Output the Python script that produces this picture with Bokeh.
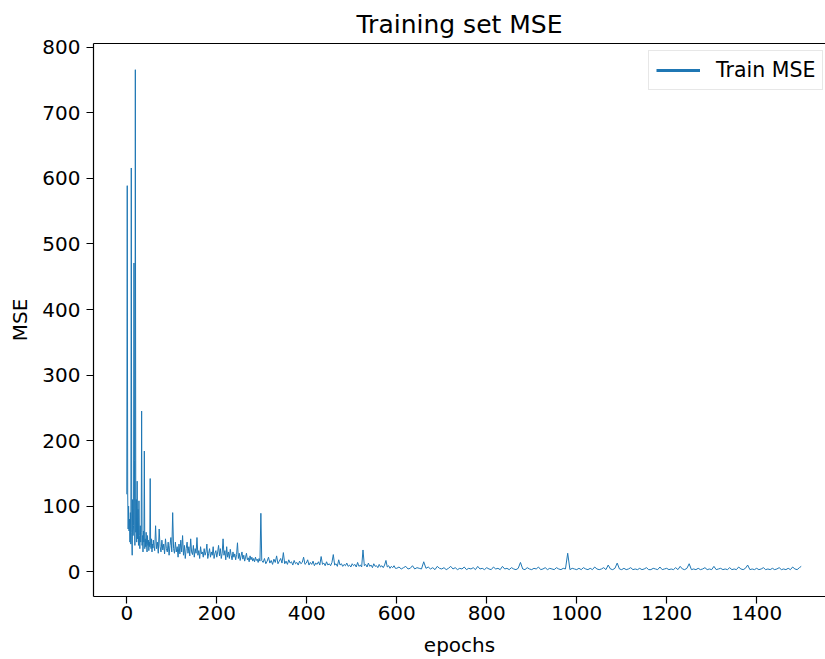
from bokeh.plotting import figure
from bokeh.models import Range1d, FixedTicker, LinearAxis, Legend, LegendItem, ColumnDataSource
from bokeh.embed import file_html
from bokeh.resources import INLINE

# ---- data ----
mse_a = [118, 589, 120, 65, 100, 62, 80, 45, 90, 42,
         616, 60, 25, 110, 55, 70, 471, 170, 40, 766,
         60, 110, 45, 138, 50, 95, 40, 108, 55, 35,
         70, 45, 60, 245, 40, 55, 30, 62, 45, 184,
         35, 50, 38, 60, 42, 30, 55, 40, 48, 32,
         45, 38, 142, 40, 35, 50, 30, 42, 36, 48]          # epochs 0..59, step 1
mse_b = [40, 32, 70, 35, 45, 28, 65, 38, 30, 48,
         33, 42, 27, 50, 35, 30, 45, 25, 40, 52,
         30, 90, 35, 28, 45, 30, 38, 22, 42, 27,
         48, 30, 55, 25, 40, 20, 35, 45, 28, 38,
         24, 50, 30, 26, 40, 22, 35, 28, 52, 25,
         32, 20, 38, 27, 30, 22, 35, 25, 30, 42,
         20, 28, 35, 22, 30, 25, 38, 20, 28, 32,
         22, 30, 40, 24, 35, 20, 28, 50, 25, 32,
         18, 38, 22, 30, 20, 34, 25, 18, 30, 22,
         27, 18, 26, 44, 20, 28, 17, 24, 30, 19,
         25, 16, 22, 28, 18, 21, 15, 24, 18, 22,
         16, 20, 15, 22, 17, 19, 14, 20, 16, 89]           # epochs 60..298, step 2
mse_c = [17, 14, 20, 12, 16, 22, 13, 17, 11, 19,
         14, 24, 12, 16, 20, 13, 29, 12, 16, 11,
         18, 13, 15, 10, 17, 12, 14, 10, 16, 12,
         14, 22, 11, 13, 18, 10, 14, 11, 16, 9,
         13, 11, 15, 10, 23, 11, 13, 9, 15, 10,
         12, 9, 14, 26, 10, 12, 8, 18, 10, 12,
         8, 11, 9, 13, 8, 10, 7, 12, 9, 11,
         7, 14, 8, 10, 7, 33, 9, 11, 7, 13,
         8, 10, 6, 12, 8, 9, 6, 11, 7, 9,
         6, 10, 17, 7, 9, 5, 8, 6, 9, 5]                   # epochs 300..597, step 3
mse_d = [5, 7, 4, 6, 8, 4, 5, 9, 4, 6,
         5, 4, 15, 5, 7, 4, 6, 3, 8, 5,
         4, 6, 3, 5, 8, 4, 6, 3, 5, 4,
         7, 3, 5, 4, 6, 3, 8, 4, 5, 3,
         6, 4, 3, 7, 4, 5, 3, 8, 4, 5,
         3, 6, 4, 3, 5, 14, 4, 3, 6, 4,
         3, 5, 4, 7, 3, 4, 6, 3, 5, 4,
         3, 6, 4, 3, 5, 4, 28, 3, 5, 4,
         3, 5, 3, 6, 4, 3, 5, 3, 7, 4,
         3, 4, 6, 3, 10, 4, 3, 5, 13, 4,
         3, 5, 3, 4, 6, 3, 4, 3, 5, 3,
         4, 6, 3, 3, 5, 4, 3, 7, 3, 4,
         5, 3, 4, 3, 6, 3, 8, 4, 3, 5,
         12, 3, 4, 3, 5, 3, 4, 6, 3, 4,
         3, 8, 3, 4, 5, 3, 4, 3, 6, 3,
         4, 3, 7, 4, 3, 5, 10, 3, 4, 3,
         5, 3, 4, 6, 3, 4, 3, 5, 3, 4,
         6, 3, 4, 3, 5, 3, 7, 4, 3, 6]                     # epochs 600..1495, step 5
last_epoch = 1499
last_mse = 8

x_ticks = [0, 200, 400, 600, 800, 1000, 1200, 1400]
y_ticks = [0, 100, 200, 300, 400, 500, 600, 700, 800]

epochs = (list(range(0, len(mse_a)))
          + list(range(60, 60 + 2 * len(mse_b), 2))
          + list(range(300, 300 + 3 * len(mse_c), 3))
          + list(range(600, 600 + 5 * len(mse_d), 5))
          + [last_epoch])
mse = mse_a + mse_b + mse_c + mse_d + [last_mse]

BLUE = "#1f77b4"
FONT = "DejaVu Sans"

p = figure(width=825, height=659,
           x_range=Range1d(-74, 1553), y_range=Range1d(-38, 806),
           output_backend="svg", toolbar_location=None,
           min_border_left=93, min_border_right=0,
           min_border_top=43, min_border_bottom=63)
p.outline_line_color = None
p.xgrid.visible = False
p.ygrid.visible = False
p.background_fill_color = "white"
p.border_fill_color = "white"

p.title.text = "Training set MSE"
p.title.align = "center"
p.title.text_font = FONT
p.title.text_font_size = "25px"
p.title.text_font_style = "normal"
p.title.text_color = "black"
p.title.text_line_height = 0.65
p.title.standoff = 10

src = ColumnDataSource(dict(x=epochs, y=mse))
p.line("x", "y", source=src, line_color=BLUE, line_width=1.0)

# off-screen stand-in so the legend shows a thicker sample line
dummy = p.line(x=[-5000, -4999], y=[-5000, -5000], line_color=BLUE, line_width=3)

for ax, ticks, label in ((p.xaxis[0], x_ticks, "epochs"), (p.yaxis[0], y_ticks, "MSE")):
    ax.ticker = FixedTicker(ticks=ticks)
    ax.axis_label = label
    ax.axis_label_text_font = FONT
    ax.axis_label_text_font_size = "20px"
    ax.axis_label_text_font_style = "normal"
    ax.axis_label_text_color = "black"
    ax.major_label_text_font = FONT
    ax.major_label_text_font_size = "20px"
    ax.major_label_text_color = "black"
    ax.major_tick_out = 7
    ax.major_tick_in = 0
    ax.minor_tick_line_color = None
    ax.axis_line_color = "black"
    ax.axis_line_width = 1.2
    ax.major_tick_line_width = 1.2
p.xaxis[0].major_label_standoff = 2
p.xaxis[0].axis_label_standoff = 10
p.yaxis[0].major_label_standoff = 6
p.yaxis[0].axis_label_standoff = 7

top = LinearAxis(ticker=FixedTicker(ticks=[]), major_label_text_font_size="0px",
                 major_tick_line_color=None, minor_tick_line_color=None,
                 major_tick_out=0, major_tick_in=0, major_label_standoff=0,
                 axis_line_color="black", axis_line_width=1.2)
p.add_layout(top, "above")

legend = Legend(items=[LegendItem(label="Train MSE", renderers=[dummy])],
                location=(555, 506))
legend.label_text_font = FONT
legend.label_text_font_size = "20.5px"
legend.label_text_color = "black"
legend.glyph_width = 44
legend.glyph_height = 20
legend.padding = 7
legend.spacing = 0
legend.label_standoff = 16
legend.border_line_color = "#d0d0d0"
legend.border_line_width = 1
legend.background_fill_alpha = 0.8
p.add_layout(legend)

open("out.html", "w").write(file_html(p, INLINE))
